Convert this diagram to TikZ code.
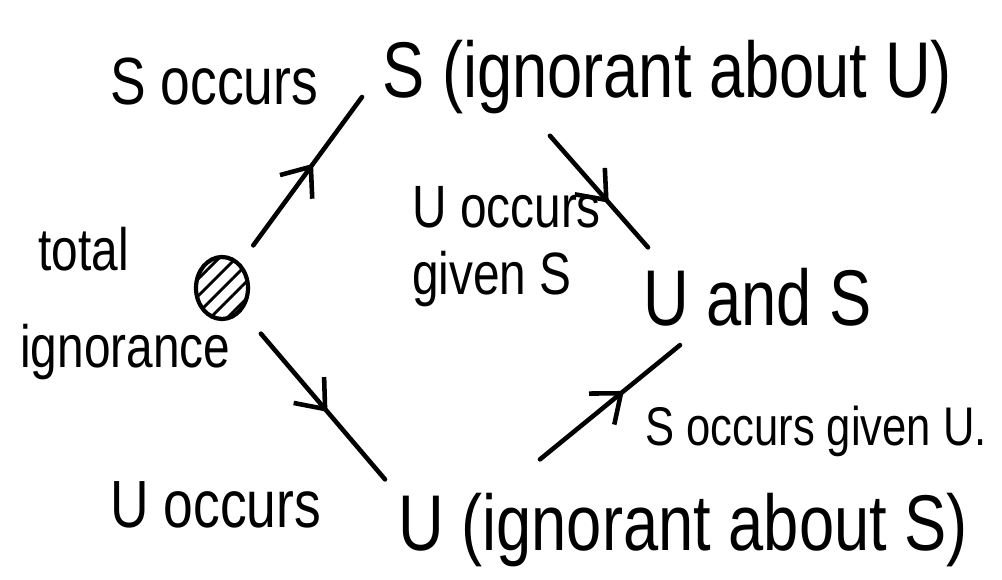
\documentclass[tikz,border=0pt]{standalone}
\usepackage{fontspec}
\setmainfont{Liberation Sans}[FakeStretch=0.8]
\usetikzlibrary{arrows.meta, decorations.markings, patterns.meta, shapes.geometric}

\begin{document}
\begin{tikzpicture}[
  x=0.02cm, y=-0.02cm,
  state/.style={inner sep=0pt, anchor=base west, font=\fontsize{45}{50}\selectfont},
  note/.style={inner sep=0pt, anchor=base west, font=\fontsize{34}{40}\selectfont},
  tag/.style={inner sep=0pt, align=left, font=\fontsize{31}{38}\selectfont},
  blob/.style={draw, ellipse, line width=2.4pt, minimum width=1.04cm, minimum height=1.24cm,
    pattern={Lines[angle=45, distance=2.4mm, line width=1.6pt]}},
  flow/.style={line width=2.6pt, line cap=round, postaction={decorate},
    decoration={markings, mark=at position 0.6 with {\arrow{Straight Barb[length=5mm, width=8mm, line width=2.6pt]}}}}
]
  \path[use as bounding box, fill=white] (0,0) rectangle (1002,579);

  % start
  \node[blob] (dot) at (222,288) {};
  \node[note] (total) at (38,270) {total};
  \node[note] (ign)   at (20,367) {ignorance};

  % states
  \node[state] (sS) at (382,97)  {S (ignorant about U)};
  \node[state] (uS) at (643,325) {U and S};
  \node[state] (sU) at (398,550) {U (ignorant about S)};

  % labels
  \node[note, font=\fontsize{38}{40}\selectfont] (sOcc) at (110,104) {S occurs};
  \node[note, font=\fontsize{38}{40}\selectfont] (uOcc) at (110,527) {U occurs};
  \node[tag, anchor=north west, font=\fontsize{34}{38}\selectfont] (uGiv) at (412,186) {U occurs\\given S};
  \node[tag, anchor=base west] (sGiv) at (645,445) {S occurs given U.};

  % transitions
  \draw[flow, shorten <=0.45cm] (dot) -- ([xshift=-0.4cm]sS.base west);
  \draw[flow, shorten <=0.6cm] (dot) -- ([xshift=-0.26cm, yshift=0.26cm]sU.north west);
  \draw[flow] ([xshift=3.36cm, yshift=-0.44cm]sS.south west) -- ([xshift=0.1cm, yshift=0.4cm]uS.north west);
  \draw[flow] ([xshift=2.84cm, yshift=0.66cm]sU.north west) -- ([xshift=0.74cm, yshift=-0.38cm]uS.south west);
\end{tikzpicture}
\end{document}
